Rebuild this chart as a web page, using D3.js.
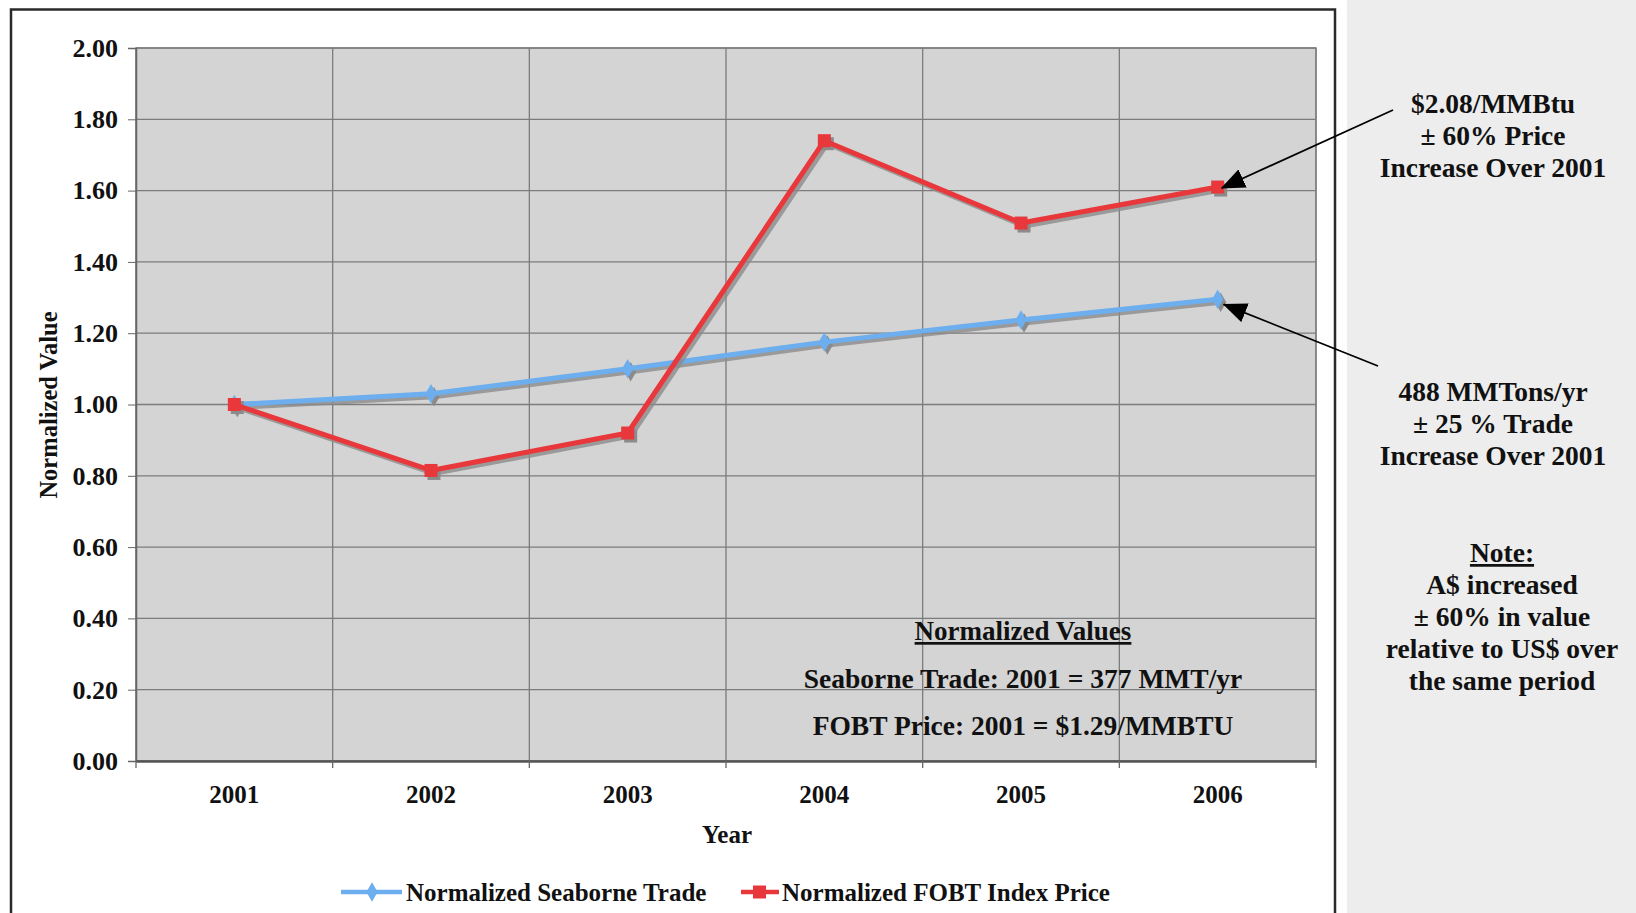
<!DOCTYPE html>
<html>
  <head>
    <meta charset="utf-8">
    <title>Normalized seaborne trade and FOBT price</title>
    <style media="screen">
      body {margin:0; background:#fff}
      text {font-family:"Liberation Serif", "Times New Roman", serif; font-weight:bold; fill:#111}
    </style>
  </head>
  <body>
    <script src="https://cdn.jsdelivr.net/npm/d3@7"></script>
    <script type="text/javascript">

    const years = ['2001', '2002', '2003', '2004', '2005', '2006']
    const seaborne = [1.00, 1.03, 1.10, 1.175, 1.237, 1.295]
    const fobt = [1.00, 0.815, 0.92, 1.74, 1.509, 1.61]
    const yTicks = [0, 0.2, 0.4, 0.6, 0.8, 1.0, 1.2, 1.4, 1.6, 1.8, 2.0]
    const seriesNames = ['Normalized Seaborne Trade', 'Normalized FOBT Index Price']
    const boxLines = ['Seaborne Trade: 2001 = 377 MMT/yr', 'FOBT Price: 2001 = $1.29/MMBTU']
    const priceNote = ['$2.08/MMBtu', '\u00b1 60% Price', 'Increase Over 2001']
    const tradeNote = ['488 MMTons/yr', '\u00b1 25 % Trade', 'Increase Over 2001']
    const fxNote = ['A$ increased', '\u00b1 60% in value', 'relative to US$ over', 'the same period']

    const w = 1636, h = 913
    const blue = '#6caeee', red = '#e8383b', shadow = '#8b8b8b'

    const svg = d3.select('body').append('svg')
      .attr('width', w)
      .attr('height', h)

    const defs = svg.append('defs')
    defs.append('marker')
      .attr('id', 'head')
      .attr('viewBox', '0 0 24 20')
      .attr('refX', 23).attr('refY', 10)
      .attr('markerWidth', 24).attr('markerHeight', 20)
      .attr('markerUnits', 'userSpaceOnUse')
      .attr('orient', 'auto')
      .append('path').attr('d', 'M0,0L24,10L0,20Z').attr('fill', '#000')

    // side panel + chart frame
    svg.append('rect').attr('x', 1347).attr('y', 0).attr('width', w - 1347).attr('height', h).attr('fill', '#ecedec')
    svg.append('rect').attr('x', 11).attr('y', 9.5).attr('width', 1324).attr('height', h + 20)
      .attr('fill', '#fff').attr('stroke', '#2a2a2a').attr('stroke-width', 2.5)

    const x = d3.scaleBand().domain(years).range([136, 1316])
    const y = d3.scaleLinear().domain([0, 2]).range([761, 48])
    const cx = d => x(d) + x.bandwidth() / 2

    const plot = svg.append('g')
    plot.append('rect').attr('x', 136).attr('y', 48).attr('width', 1180).attr('height', 713)
      .attr('fill', '#d4d4d4').attr('stroke', '#8a8a8a').attr('stroke-width', 1.5)

    plot.selectAll('.hg').data(yTicks).join('line')
      .attr('x1', 136).attr('x2', 1316)
      .attr('y1', d => y(d)).attr('y2', d => y(d))
      .attr('stroke', '#7c7c7c').attr('stroke-width', 1.3)

    const bounds = years.map(d => x(d)).concat([x.range()[1]])
    plot.selectAll('.vg').data(bounds).join('line')
      .attr('x1', d => d).attr('x2', d => d)
      .attr('y1', 48).attr('y2', 761)
      .attr('stroke', '#7c7c7c').attr('stroke-width', 1.3)

    // axes
    const yAxis = svg.append('g').attr('transform', 'translate(136,0)')
      .call(d3.axisLeft(y).tickValues(yTicks).tickFormat(d3.format('.2f')).tickSize(8).tickPadding(10))
    yAxis.select('.domain').attr('stroke', '#666').attr('stroke-width', 1.5)
    yAxis.selectAll('.tick line').attr('stroke', '#666')
    yAxis.selectAll('text').style('font-size', '26px').attr('fill', '#111')

    const xAxis = svg.append('g').attr('transform', 'translate(0,761)')
      .call(d3.axisBottom(x).tickSize(0).tickPadding(24))
    xAxis.select('.domain').attr('stroke', '#555').attr('stroke-width', 2.5)
    xAxis.selectAll('text').style('font-size', '25px').attr('fill', '#111')
    svg.append('g').selectAll('line').data(bounds).join('line')
      .attr('x1', d => d).attr('x2', d => d).attr('y1', 761).attr('y2', 768)
      .attr('stroke', '#666').attr('stroke-width', 1.3)

    svg.append('text').attr('x', 727).attr('y', 843).attr('text-anchor', 'middle')
      .style('font-size', '25px').text('Year')
    svg.append('text').attr('transform', 'translate(57,405) rotate(-90)').attr('text-anchor', 'middle')
      .style('font-size', '24.5px').text('Normalized Value')

    // series
    const line = d3.line().x((d, i) => cx(years[i])).y(d => y(d))
    const diamond = d3.symbol().type(d3.symbolDiamond).size(110)

    function series(vals, color, shape) {
      const g = svg.append('g')
      const sh = g.append('g').attr('transform', 'translate(3,3)')
      sh.append('path').attr('d', line(vals)).attr('fill', 'none')
        .attr('stroke', shadow).attr('stroke-width', 5).attr('opacity', 0.8)
      const main = g.append('g')
      main.append('path').attr('d', line(vals)).attr('fill', 'none')
        .attr('stroke', color).attr('stroke-width', 5).attr('stroke-linejoin', 'round')
      ;[[sh, shadow], [main, color]].forEach(([grp, c]) => {
        if (shape === 'square') {
          grp.selectAll('rect').data(vals).join('rect')
            .attr('x', (d, i) => cx(years[i]) - 6.5).attr('y', d => y(d) - 6.5)
            .attr('width', 13).attr('height', 13).attr('fill', c)
        } else {
          grp.selectAll('.m').data(vals).join('path')
            .attr('transform', (d, i) => `translate(${cx(years[i])},${y(d)})`)
            .attr('d', diamond).attr('fill', c)
        }
      })
    }
    series(seaborne, blue, 'diamond')
    series(fobt, red, 'square')

    // box in plot
    const box = svg.append('g')
    box.append('text').attr('x', 1023).attr('y', 640).attr('text-anchor', 'middle')
      .style('font-size', '27px').style('text-decoration', 'underline').text('Normalized Values')
    box.selectAll('.bl').data(boxLines).join('text')
      .attr('x', 1023).attr('y', (d, i) => 688 + i * 47).attr('text-anchor', 'middle')
      .style('font-size', '27.5px').text(d => d)

    // legend
    const lg = svg.append('g').attr('transform', 'translate(0,892)')
    lg.append('line').attr('x1', 341).attr('x2', 402).attr('stroke', blue).attr('stroke-width', 4.5)
    lg.append('path').attr('transform', 'translate(372,0)').attr('d', diamond).attr('fill', blue)
    lg.append('text').attr('x', 406).attr('y', 9).style('font-size', '25px').text(seriesNames[0])
    lg.append('line').attr('x1', 741).attr('x2', 779).attr('stroke', red).attr('stroke-width', 4.5)
    lg.append('rect').attr('x', 753).attr('y', -6.5).attr('width', 13).attr('height', 13).attr('fill', red)
    lg.append('text').attr('x', 782).attr('y', 9).style('font-size', '25px').text(seriesNames[1])

    // side annotations
    const side = svg.append('g')
    function block(lines, x0, y0, dy) {
      side.append('g').selectAll('text').data(lines).join('text')
        .attr('x', x0).attr('y', (d, i) => y0 + i * dy).attr('text-anchor', 'middle')
        .style('font-size', '27.5px').text(d => d)
    }
    block(priceNote, 1493, 113, 32)
    block(tradeNote, 1493, 401, 32)
    side.append('text').attr('x', 1502).attr('y', 562).attr('text-anchor', 'middle')
      .style('font-size', '27.5px').style('text-decoration', 'underline').text('Note:')
    block(fxNote, 1502, 594, 32)

    const last = years.length - 1
    svg.append('line').attr('x1', 1393).attr('y1', 110)
      .attr('x2', cx(years[last]) + 4).attr('y2', y(fobt[last]) + 1)
      .attr('stroke', '#000').attr('stroke-width', 1.8).attr('marker-end', 'url(#head)')
    svg.append('line').attr('x1', 1378).attr('y1', 366)
      .attr('x2', cx(years[last]) + 6).attr('y2', y(seaborne[last]) + 5)
      .attr('stroke', '#000').attr('stroke-width', 1.8).attr('marker-end', 'url(#head)')

    </script>
  </body>
</html>
